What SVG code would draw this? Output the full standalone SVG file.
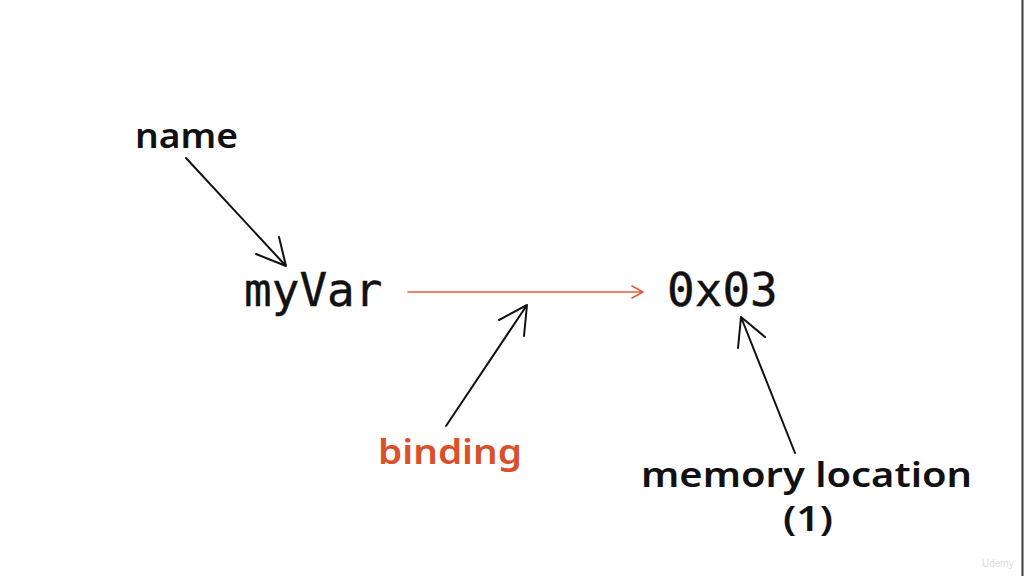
<svg xmlns="http://www.w3.org/2000/svg" width="1024" height="576" viewBox="0 0 1024 576">
<style>
.hand{font-family:"Noto Sans","Liberation Sans",sans-serif;font-weight:600;font-size:35px;fill:#111}
.red{fill:#d9502a}
.mono{font-family:"DejaVu Sans Mono","Liberation Mono",monospace;font-size:46px;fill:#111;stroke:#111;stroke-width:0.4}
.ln{fill:none;stroke:#111;stroke-width:2;stroke-linecap:round;stroke-linejoin:round}
.rln{fill:none;stroke:#e0603c;stroke-width:1.6;stroke-linecap:round;stroke-linejoin:round}
</style>
<rect width="1024" height="576" fill="#fff"/>
<rect x="1021.5" y="0" width="2" height="576" fill="#3a3a3a"/>
<g id="name"><text class="hand" x="135" y="148" textLength="103" lengthAdjust="spacingAndGlyphs">name</text></g>
<g id="myVar"><text class="mono" x="244" y="306">myVar</text></g>
<g id="addr"><text class="mono" x="667" y="306">0x03</text></g>
<g id="binding"><text class="hand red" x="378" y="464" textLength="144" lengthAdjust="spacingAndGlyphs">binding</text></g>
<g id="memory"><text class="hand" x="641" y="487" textLength="331" lengthAdjust="spacingAndGlyphs">memory location</text>
<text class="hand" x="783" y="531" font-size="31" textLength="50" lengthAdjust="spacingAndGlyphs">(1)</text></g>
<g id="connectors">
<path class="ln" d="M186 158 L286 266 M256 254 L286 266 L279 237"/>
<path class="rln" d="M408 292 L643 292 M632 286 L643 292 L632 298"/>
<path class="ln" d="M446 426 L527 305 M499 320 L527 305 L524 336"/>
<path class="ln" d="M795 453 L741 317 M738 348 L741 317 L765 337"/>
</g>
<text x="982" y="567" font-family="Liberation Sans, sans-serif" font-size="10" fill="#dcdcdc">Udemy</text>
</svg>
